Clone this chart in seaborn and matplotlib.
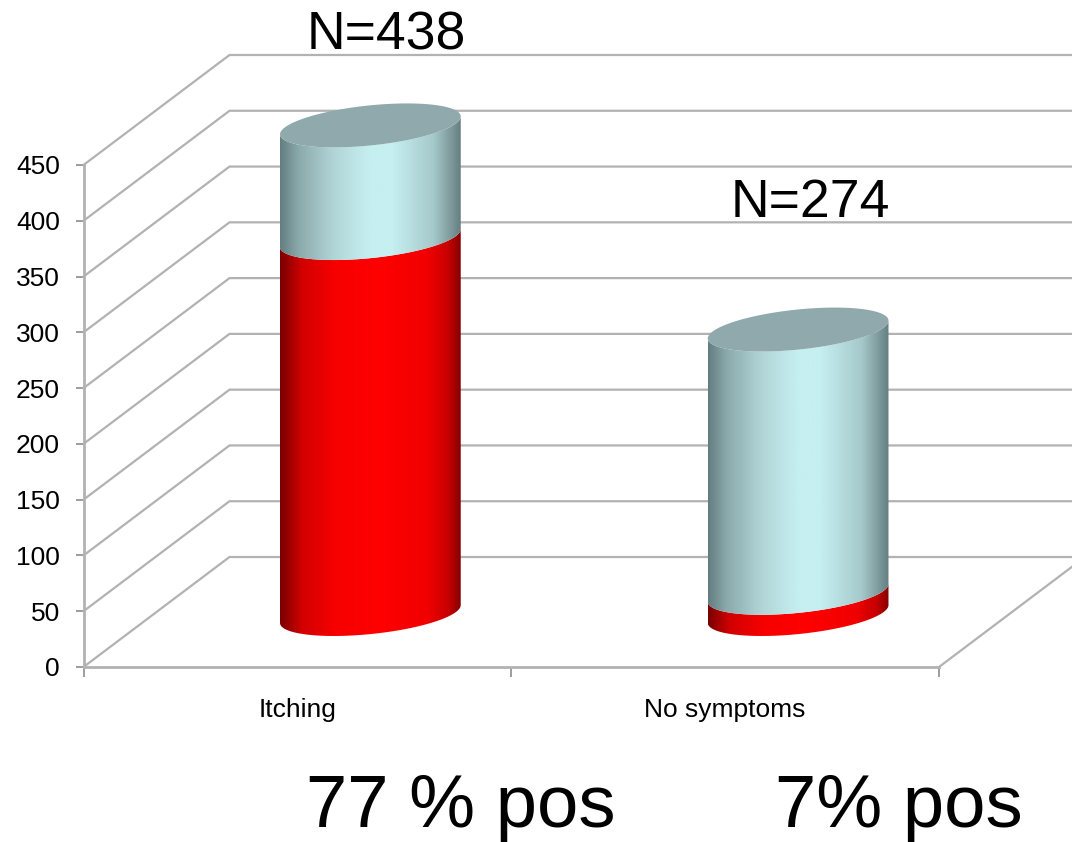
import numpy as np
import pandas as pd
import seaborn as sns
import matplotlib.pyplot as plt
from matplotlib.colors import LinearSegmentedColormap
from matplotlib.patches import Polygon

categories = ["Itching", "No symptoms"]
totals = [438, 255]
positives = [337, 19]
n_labels = ["N=438", "N=274"]
pos_labels = ["77 % pos", "7% pos"]
y_ticks = [0, 50, 100, 150, 200, 250, 300, 350, 400, 450]

W, H = 1072, 842
GRID = "#b2b2b2"
# fake 3d: wall offset, cylinder base and ellipse shape, in data units
DEPTH_X = 0.3413
DEPTH_Y = 98.6
BASE = 47.5
ELL_SHEAR = 8.0
ELL_MINOR = 18.0

sns.set_theme(style="white")
plt.rcParams["font.family"] = ["Liberation Sans", "DejaVu Sans"]

fig = plt.figure(figsize=(W / 100, H / 100), dpi=100)
ax = fig.add_axes([83.5 / W, (H - 667) / H, 855.5 / W, 502 / H])

df = pd.DataFrame({"category": categories, "total": totals, "positive": positives})
sns.barplot(data=df, x="category", y="total", color="#c6eff1", width=0.4225, ax=ax)
sns.barplot(data=df, x="category", y="positive", color="#ff0000", width=0.4225, ax=ax)

ax.set_xlim(-0.5, 1.5)
ax.set_ylim(0, 450)
ax.set_xlabel("")
ax.set_ylabel("")

# walls
for v in y_ticks:
    ax.plot([-0.5, -0.5 + DEPTH_X, 1.5 + DEPTH_X], [v, v + DEPTH_Y, v + DEPTH_Y],
            color=GRID, lw=1.6, clip_on=False, zorder=1, solid_joinstyle="miter")
ax.plot([1.5, 1.5 + DEPTH_X], [0, DEPTH_Y], color=GRID, lw=1.6, clip_on=False, zorder=1)

red_cmap = LinearSegmentedColormap.from_list("red", [
    (0, "#7a0000"), (0.12, "#d20000"), (0.3, "#f60000"), (0.55, "#ff0000"),
    (0.82, "#f00000"), (0.93, "#c80000"), (1, "#860000")])
cyan_cmap = LinearSegmentedColormap.from_list("cyan", [
    (0, "#647d80"), (0.1, "#8aa9ab"), (0.3, "#b2d6d8"), (0.5, "#c6eff1"), (0.62, "#c6eff1"),
    (0.85, "#a6c9cb"), (1, "#667f81")])
ramp = np.linspace(0, 1, 256).reshape(1, -1)


def ring(cx, half, level, ts):
    xs = cx + half * np.cos(ts)
    ys = level + ELL_SHEAR * np.cos(ts) + ELL_MINOR * np.sin(ts)
    return np.column_stack([xs, ys])


def body(cx, half, low, high, cmap):
    ts = np.linspace(np.pi, 2 * np.pi, 80)
    pts = np.vstack([ring(cx, half, high, ts), ring(cx, half, low, ts)[::-1]])
    clip = Polygon(pts, closed=True, transform=ax.transData)
    im = ax.imshow(ramp, cmap=cmap, aspect="auto", interpolation="bilinear", zorder=3,
                   extent=[cx - half, cx + half, low - 30, high + 30])
    im.set_clip_box(fig.bbox)
    im.set_clip_path(clip)


n = len(categories)
for tot_bar, pos_bar in zip(ax.patches[:n], ax.patches[n:]):
    half = tot_bar.get_width() / 2
    cx = tot_bar.get_x() + half + DEPTH_X / 2
    pos_top = BASE + pos_bar.get_height()
    tot_top = BASE + tot_bar.get_height()
    body(cx, half, BASE, pos_top, red_cmap)
    body(cx, half, pos_top, tot_top, cyan_cmap)
    top = ring(cx, half, tot_top, np.linspace(0, 2 * np.pi, 160))
    ax.add_patch(Polygon(top, closed=True, facecolor="#8fa9ac", edgecolor="none",
                         clip_on=False, zorder=4))
    tot_bar.set_visible(False)
    pos_bar.set_visible(False)

ax.set_xlim(-0.5, 1.5)
ax.set_ylim(0, 450)

sns.despine(ax=ax)
for side in ["left", "bottom"]:
    ax.spines[side].set_color(GRID)
    ax.spines[side].set_linewidth(2.0)

ax.set_yticks(y_ticks)
ax.set_xticks([-0.5, 0.5, 1.5], ["", "", ""])
ax.set_xticks([0, 1], categories, minor=True)
ax.tick_params(axis="y", left=True, length=6, width=1.2, color="#8c8c8c", pad=11,
               labelsize=19, labelcolor="black")
ax.tick_params(axis="x", which="major", bottom=True, length=7, width=1.2, color="#8c8c8c")
ax.tick_params(axis="x", which="minor", bottom=False, length=0, pad=22,
               labelsize=19, labelcolor="black")

fig.text(307 / W, 1 - 50 / H, n_labels[0], fontsize=38.5, color="black")
fig.text(731 / W, 1 - 217 / H, n_labels[1], fontsize=38.5, color="black")
fig.text(306 / W, 1 - 827 / H, pos_labels[0], fontsize=53.5, color="black")
fig.text(775 / W, 1 - 827 / H, pos_labels[1], fontsize=53.5, color="black")

fig.savefig("out.png", dpi=100)
